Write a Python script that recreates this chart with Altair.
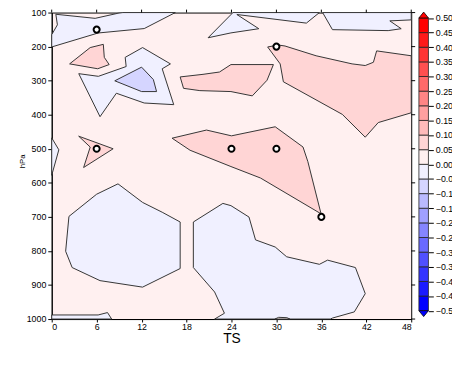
import altair as alt
import pandas as pd

# ---------------- data ----------------
ts_ticks = [0, 6, 12, 18, 24, 30, 36, 42, 48]
hpa_ticks = [100, 200, 300, 400, 500, 600, 700, 800, 900, 1000]

cbar_bounds = [-0.50, -0.45, -0.40, -0.35, -0.30, -0.25, -0.20, -0.15, -0.10, -0.05,
               0.00, 0.05, 0.10, 0.15, 0.20, 0.25, 0.30, 0.35, 0.40, 0.45, 0.50]
cbar_colors = ["#0000ff", "#1a1aff", "#3535ff", "#5050ff", "#6a6aff",
               "#8585ff", "#a0a0ff", "#babaff", "#d5d5ff", "#f0f0ff",
               "#fff0f0", "#ffd5d5", "#ffbaba", "#ffa0a0", "#ff8585",
               "#ff6a6a", "#ff5050", "#ff3535", "#ff1a1a", "#ff0000"]

sig_ts = [6, 30, 6, 24, 30, 36]
sig_hpa = [150, 200, 500, 500, 500, 700]

# contour regions, vertices as (TS, hPa)
# -0.05 .. 0
neg1_top_left = [(0.55, 105), (5.8, 117), (8.85, 102), (9.5, 100), (16.5, 100), (12.35, 147),
                 (6.2, 160), (0, 201), (0, 165), (0.76, 136)]
neg1_top_mid = [(20.88, 174), (24.2, 100), (35.74, 100), (34.0, 131), (24.72, 105.7),
                (27.65, 147.4), (23.93, 159.7)]
neg1_top_right = [(36.17, 100), (37.48, 150.2), (44.92, 153), (46.66, 147.4), (45.14, 124.4),
                  (48, 121.5), (48, 100)]
neg1_upper_left = [(3.61, 279.4), (6.23, 287.2), (9.94, 258.5), (9.81, 231.5), (12.13, 202.8),
                   (15.85, 250.7), (14.75, 265.1), (16.29, 370.4), (12.35, 365.6), (8.63, 336.9),
                   (6.45, 405.8)]
neg1_left_edge = [(0, 468), (0.95, 503), (0, 578)]
neg1_lower_left = [(8.85, 603), (12.13, 657.5), (14.75, 686.3), (17.15, 715), (17.15, 851.7),
                   (12.13, 906.3), (6.45, 887.2), (2.73, 848.8), (1.86, 801), (2.3, 698.6),
                   (6.0, 633.4)]
neg1_lower_mid = [(18.91, 715), (22.85, 660.4), (23.93, 667), (26.34, 700.5), (27.21, 767.5),
                  (29.84, 788.5), (31.37, 817.2), (35.74, 839.3), (36.83, 827), (40.55, 848.8),
                  (41.86, 925.4), (40.4, 979), (37.5, 997), (37.2, 1000), (21.75, 1000),
                  (23.06, 983), (21.75, 920.6), (18.91, 848.8)]
neg1_bottom_strip = [(0, 988), (6.2, 988), (7.45, 981), (8.0, 1000), (0, 1000)]
# -0.10 .. -0.05
neg2_core = [(8.42, 300.4), (12.0, 260.3), (13.57, 296.7), (14.0, 332), (12.0, 332)]
# 0.05 .. 0.10
pos1_a = [(2.39, 250.7), (5.14, 202.8), (6.89, 193.3), (7.02, 231.5), (7.67, 252.7), (6.14, 265)]
pos1_b = [(17.15, 289), (20.2, 281.4), (22.4, 274.6), (23.93, 252.7), (29.6, 252.7),
          (28.75, 298.7), (26.78, 344.6), (23.93, 332), (19.78, 329.2), (17.6, 322.5)]
pos1_c = [(28.83, 201), (30.27, 195.3), (31.15, 198.2), (35.3, 226.9), (40.1, 250.7),
          (41.86, 255.5), (42.95, 245.9), (43.38, 212.5), (48, 226.9), (48, 394.3),
          (43.6, 423), (41.86, 466), (38.8, 399), (30.93, 303.3), (30.5, 250.7)]
pos1_d = [(3.6, 463), (8.2, 500), (4.26, 555), (5.14, 495)]
pos1_e = [(16.07, 468.9), (20.66, 445), (24.0, 462), (29.84, 435.4), (33.55, 494.8),
          (34.2, 537.8), (35.96, 691), (27.87, 585.8), (23.93, 552.2), (18.47, 504.3)]
# 0 .. 0.05 pocket inside the lower negative region
pos0_bottom = [(29.8, 1000), (30.3, 995), (31.4, 996), (31.8, 1000)]

# ---------------- layout constants ----------------
W, H = 366, 312
FONT = "Liberation Sans"
CB_LEFT, CB_W = 373.8, 9.7      # colour bar position (px from plot left) and width
CB_TOP, CB_SPAN = 5.5, 298      # px of the 0.5 mark below plot top, px per unit
LINE = "#333333"


def frame(polys, name):
    rows = []
    for pid, pts in enumerate(polys):
        for k, (t, p) in enumerate(pts):
            rows.append({"poly": f"{name}{pid}", "k": k, "ts": t, "hpa": p})
    return pd.DataFrame(rows)


x_scale = alt.Scale(domain=[0, 48], nice=False, zero=False)
y_scale = alt.Scale(domain=[100, 1000], reverse=True, nice=False, zero=False)
x_axis = alt.Axis(values=ts_ticks, title="TS", grid=False, tickSize=3, labelPadding=0.5,
                  labelFontSize=9, titleFontSize=14, titleFontWeight="normal", titlePadding=0,
                  domainColor="black", tickColor="black", labelColor="black",
                  titleColor="black", labelFont=FONT, titleFont=FONT, format="d")
y_axis = alt.Axis(values=hpa_ticks, title="hPa", grid=False, tickSize=4, labelPadding=2,
                  labelFontSize=9, titleFontSize=8, titleFontWeight="normal",
                  titleAngle=270, titleX=-28, titleY=151, titleBaseline="alphabetic",
                  titleAlign="center", domainColor="black", tickColor="black",
                  labelColor="black", titleColor="black", labelFont=FONT, titleFont=FONT,
                  format="d")

X = alt.X("ts:Q", scale=x_scale, axis=x_axis)
Y = alt.Y("hpa:Q", scale=y_scale, axis=y_axis)


def poly_layer(df, color):
    return alt.Chart(df).mark_line(
        interpolate="linear-closed", fill=color, fillOpacity=1,
        stroke=LINE, strokeWidth=1
    ).encode(x=X, y=Y, detail="poly:N", order=alt.Order("k:Q"))


neg1_df = frame([neg1_top_left, neg1_top_mid, neg1_top_right, neg1_upper_left, neg1_left_edge,
                 neg1_lower_left, neg1_lower_mid, neg1_bottom_strip], "n1_")
neg2_df = frame([neg2_core], "n2_")
pos1_df = frame([pos1_a, pos1_b, pos1_c, pos1_d, pos1_e], "p1_")
pos0_df = frame([pos0_bottom], "p0_")

layers = [
    poly_layer(neg1_df, cbar_colors[9]),
    poly_layer(neg2_df, cbar_colors[8]),
    poly_layer(pos1_df, cbar_colors[11]),
    poly_layer(pos0_df, cbar_colors[10]),
]

top_ticks = alt.Chart(pd.DataFrame({"ts": ts_ticks})).mark_rule(color="black").encode(
    x=X, y=alt.value(0), y2=alt.value(-3))
right_ticks = alt.Chart(pd.DataFrame({"hpa": hpa_ticks})).mark_rule(color="black").encode(
    y=Y, x=alt.value(W), x2=alt.value(W + 4))

markers = alt.Chart(pd.DataFrame({"ts": sig_ts, "hpa": sig_hpa})).mark_point(
    shape="circle", size=38, filled=True, fill="white", stroke="black",
    strokeWidth=2, opacity=1
).encode(x=X, y=Y)

main = alt.layer(*layers, top_ticks, right_ticks, markers)

# ---------------- colour bar ----------------
cells_df = pd.DataFrame({
    "cx": [0] * 20, "cx2": [1] * 20,
    "cv": cbar_bounds[:-1], "cv2": cbar_bounds[1:],
    "color": cbar_colors,
})
cb_x_scale = alt.Scale(domain=[-CB_LEFT / CB_W, (W - CB_LEFT) / CB_W], nice=False, zero=False)
cb_y_scale = alt.Scale(domain=[0.5 - (H - CB_TOP) / CB_SPAN, 0.5 + CB_TOP / CB_SPAN],
                       nice=False, zero=False)
cb_axis = alt.Axis(orient="right", offset=CB_LEFT + CB_W - W, values=cbar_bounds, format=".2f",
                   tickSize=5, labelPadding=2, domain=False, grid=False, title=None,
                   labelFontSize=9, labelFont=FONT, labelColor="black", tickColor="black")
CX = alt.X("cx:Q", scale=cb_x_scale, axis=None)
CY = alt.Y("cv:Q", scale=cb_y_scale, axis=cb_axis)

cells = alt.Chart(cells_df).mark_rect(stroke="#222222", strokeWidth=0.8).encode(
    x=CX, x2="cx2:Q", y=CY, y2="cv2:Q", fill=alt.Fill("color:N", scale=None))

tip = 6 / CB_SPAN
tri_top = alt.Chart(pd.DataFrame({"cx": [0, 0.5, 1], "cv": [0.5, 0.5 + tip, 0.5],
                                  "cv2": [0.5, 0.5, 0.5]})).mark_area(
    fill=cbar_colors[-1], stroke="black", strokeWidth=0.8, opacity=1
).encode(x=CX, y=CY, y2="cv2:Q")
tri_bot = alt.Chart(pd.DataFrame({"cx": [0, 0.5, 1], "cv": [-0.5, -0.5 - tip, -0.5],
                                  "cv2": [-0.5, -0.5, -0.5]})).mark_area(
    fill=cbar_colors[0], stroke="black", strokeWidth=0.8, opacity=1
).encode(x=CX, y=CY, y2="cv2:Q")

cbar = alt.layer(cells, tri_top, tri_bot)

chart = alt.layer(main, cbar).resolve_scale(
    x="independent", y="independent"
).properties(
    width=W, height=H,
    autosize=alt.AutoSizeParams(type="none"),
    padding={"left": 44.5, "top": 1.5, "right": 41.5, "bottom": 36},
    background="white",
).configure_view(fill=cbar_colors[10], stroke="black", strokeWidth=1)

chart.save("out.html", embed_options={"renderer": "svg", "actions": False})
